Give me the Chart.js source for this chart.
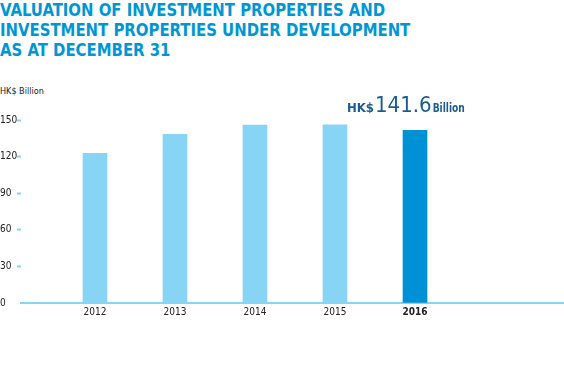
<!DOCTYPE html>
<html>
<head>
<meta charset="utf-8">
<script src="https://cdn.jsdelivr.net/npm/chart.js@4/dist/chart.umd.min.js"></script>
<style>
    html, body { margin: 0; padding: 0; background: #fff; }
    #wrap { position: relative; width: 564px; height: 386px; overflow: hidden; }
    #title {
        position: absolute; left: 0; top: 0;
        font-family: "DejaVu Sans Condensed", sans-serif;
        font-weight: bold; font-size: 18px; line-height: 20px;
        color: #0096d6; white-space: nowrap;
        transform-origin: 0 0; transform: scaleX(0.92);
    }
    #unit {
        position: absolute; left: 0; top: 86px;
        font-family: "DejaVu Sans Condensed", sans-serif;
        font-size: 9px; color: #222;
    }
    canvas { position: absolute; left: 0; top: 0; }
</style>
</head>
<body>
<div id="wrap">
    <div id="title">VALUATION OF INVESTMENT PROPERTIES AND<br>INVESTMENT PROPERTIES UNDER DEVELOPMENT<br>AS AT DECEMBER 31</div>
    <div id="unit">HK$ Billion</div>
    <canvas id="chart" width="564" height="386"></canvas>
</div>
<script>
// Data
const years = [2012, 2013, 2014, 2015, 2016];
const valuations = [122.7, 138.2, 145.8, 146.1, 141.6];
const yTicks = [0, 30, 60, 90, 120, 150];
const highlightLabel = ['HK$', '141.6', 'Billion'];

const lightBlue = '#87d4f5';
const darkBlue = '#0090d6';
const narrow = '"DejaVu Sans Condensed", sans-serif';

// Callout above the latest bar
const calloutPlugin = {
    id: 'callout',
    afterDatasetsDraw(chart) {
        const ctx = chart.ctx;
        const xs = chart.scales.x;
        const x = xs.getPixelForValue(years[years.length - 1]);
        const y = 112;
        ctx.save();
        ctx.fillStyle = '#1b5d92';
        ctx.textBaseline = 'alphabetic';
        ctx.font = 'bold 13px ' + narrow;
        const w1 = ctx.measureText(highlightLabel[0]).width;
        ctx.font = '22px ' + narrow;
        const w2 = ctx.measureText(highlightLabel[1]).width;
        let cx = x - 68;
        ctx.font = 'bold 13px ' + narrow;
        ctx.fillText(highlightLabel[0], cx, y);
        cx += w1 + 1;
        ctx.font = '22px ' + narrow;
        ctx.fillText(highlightLabel[1], cx, y);
        cx += w2 + 1;
        // "Billion" is set narrower in the original
        ctx.font = 'bold 13px ' + narrow;
        ctx.translate(cx, y);
        ctx.scale(0.78, 1);
        ctx.fillText(highlightLabel[2], 0, 0);
        ctx.restore();
    }
};

new Chart(document.getElementById('chart'), {
    type: 'bar',
    data: {
        datasets: [{
            data: years.map((yr, i) => ({ x: yr, y: valuations[i] })),
            backgroundColor: years.map((yr, i) => i === years.length - 1 ? darkBlue : lightBlue),
            barThickness: 24,
            borderWidth: 0
        }]
    },
    options: {
        responsive: false,
        animation: false,
        events: [],
        layout: { padding: { top: 120, right: 0, bottom: 63, left: 0 } },
        plugins: {
            legend: { display: false },
            tooltip: { enabled: false }
        },
        scales: {
            x: {
                type: 'linear',
                offset: false,
                min: 2012 - 74 / 80,
                max: 2012 + 469 / 80,
                afterBuildTicks(scale) {
                    scale.ticks = years.map(v => ({ value: v }));
                },
                afterFit(scale) { scale.height = 20; },
                grid: { display: false, drawTicks: false },
                border: { display: true, color: lightBlue, width: 2 },
                ticks: {
                    autoSkip: false,
                    maxRotation: 0,
                    padding: 3,
                    color: '#222',
                    font: ctx => ({
                        family: narrow,
                        size: 10,
                        weight: ctx.tick && ctx.tick.value === years[years.length - 1] ? 'bold' : 'normal'
                    }),
                    callback: v => String(v)
                }
            },
            y: {
                min: 0,
                max: 150,
                afterBuildTicks(scale) {
                    scale.ticks = yTicks.map(v => ({ value: v }));
                },
                afterFit(scale) { scale.width = 21; },
                grid: {
                    drawOnChartArea: false,
                    drawTicks: true,
                    tickLength: 4,
                    tickWidth: 2,
                    color: ctx => ctx.tick && ctx.tick.value === 0 ? 'rgba(0,0,0,0)' : lightBlue
                },
                border: { display: false },
                ticks: {
                    crossAlign: 'far',
                    padding: 2,
                    color: '#222',
                    font: { family: narrow, size: 10 }
                }
            }
        }
    },
    plugins: [calloutPlugin]
});
</script>
</body>
</html>
